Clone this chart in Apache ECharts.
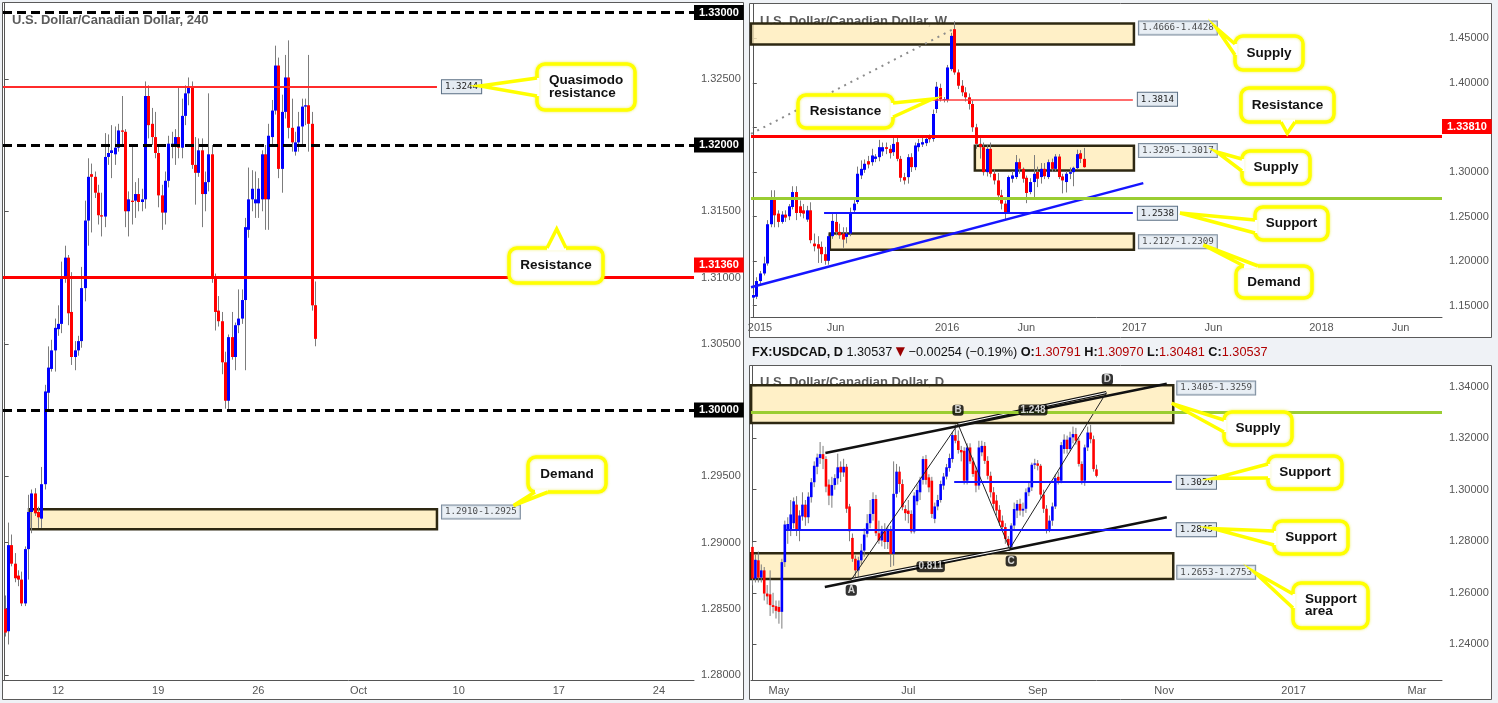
<!DOCTYPE html>
<html><head><meta charset="utf-8">
<script src="https://cdn.jsdelivr.net/npm/echarts@6/dist/echarts.min.js"></script>
<style>html,body{margin:0;padding:0;background:#eff2f6;}#c{width:1498px;height:703px;}</style>
</head><body><div id="c"></div>
<script>
// ---------------- DATA ----------------
// 240-minute candles [open, close, low, high]
const h4Ohlc = [
[1.2850,1.2832,1.2829,1.2860],[1.2833,1.2898,1.2823,1.2915],[1.2898,1.2884,1.2882,1.2906],[1.2884,1.2873,1.2870,1.2892],
[1.2875,1.2872,1.2867,1.2879],[1.2872,1.2854,1.2852,1.2878],[1.2854,1.2895,1.2852,1.2897],[1.2895,1.2923,1.2872,1.2936],
[1.2923,1.2937,1.2907,1.2940],[1.2937,1.2922,1.2920,1.2941],[1.2923,1.2919,1.2911,1.2927],[1.2918,1.2944,1.2911,1.2957],
[1.2944,1.3014,1.2940,1.3019],[1.3013,1.3032,1.2999,1.3048],[1.3031,1.3045,1.3029,1.3053],[1.3045,1.3062,1.3029,1.3069],
[1.3061,1.3065,1.3056,1.3079],[1.3065,1.3100,1.3058,1.3112],[1.3100,1.3115,1.3096,1.3124],[1.3115,1.3073,1.3064,1.3117],
[1.3074,1.3040,1.3034,1.3104],[1.3040,1.3045,1.3030,1.3052],[1.3045,1.3052,1.3041,1.3056],[1.3052,1.3092,1.3047,1.3108],
[1.3092,1.3143,1.3082,1.3158],[1.3143,1.3176,1.3124,1.3190],[1.3178,1.3176,1.3134,1.3186],[1.3176,1.3164,1.3160,1.3180],
[1.3164,1.3147,1.3140,1.3170],[1.3147,1.3146,1.3131,1.3164],[1.3146,1.3191,1.3138,1.3209],[1.3191,1.3194,1.3185,1.3208],
[1.3194,1.3196,1.3175,1.3215],[1.3193,1.3198,1.3185,1.3214],[1.3198,1.3211,1.3195,1.3216],[1.3211,1.3210,1.3200,1.3237],
[1.3210,1.3150,1.3138,1.3212],[1.3150,1.3159,1.3131,1.3165],[1.3158,1.3157,1.3140,1.3200],[1.3158,1.3163,1.3145,1.3172],
[1.3163,1.3157,1.3150,1.3175],[1.3157,1.3159,1.3150,1.3167],[1.3159,1.3237,1.3152,1.3248],[1.3237,1.3215,1.3205,1.3245],
[1.3216,1.3206,1.3200,1.3228],[1.3206,1.3194,1.3190,1.3225],[1.3194,1.3162,1.3153,1.3200],[1.3162,1.3149,1.3136,1.3170],
[1.3149,1.3173,1.3140,1.3180],[1.3173,1.3201,1.3168,1.3207],[1.3199,1.3201,1.3190,1.3210],[1.3199,1.3206,1.3185,1.3212],
[1.3206,1.3198,1.3190,1.3243],[1.3198,1.3222,1.3190,1.3235],[1.3222,1.3239,1.3215,1.3245],[1.3239,1.3244,1.3230,1.3251],
[1.3244,1.3185,1.3182,1.3248],[1.3185,1.3179,1.3155,1.3206],[1.3179,1.3196,1.3176,1.3205],[1.3196,1.3163,1.3138,1.3205],
[1.3163,1.3172,1.3150,1.3180],[1.3172,1.3193,1.3165,1.3239],[1.3193,1.3100,1.3096,1.3200],[1.3101,1.3074,1.3060,1.3103],
[1.3075,1.3067,1.3063,1.3086],[1.3067,1.3036,1.3027,1.3074],[1.3036,1.3007,1.3001,1.3044],[1.3007,1.3055,1.3000,1.3057],
[1.3055,1.3040,1.3038,1.3074],[1.3040,1.3064,1.3030,1.3066],[1.3064,1.3069,1.3058,1.3091],[1.3069,1.3083,1.3065,1.3091],
[1.3083,1.3138,1.3030,1.3145],[1.3136,1.3159,1.3130,1.3183],[1.3159,1.3167,1.3150,1.3181],[1.3156,1.3159,1.3145,1.3180],
[1.3156,1.3167,1.3145,1.3175],[1.3159,1.3193,1.3150,1.3196],[1.3193,1.3159,1.3136,1.3200],[1.3159,1.3207,1.3136,1.3216],
[1.3206,1.3226,1.3200,1.3234],[1.3226,1.3260,1.3223,1.3275],[1.3260,1.3182,1.3175,1.3266],[1.3182,1.3225,1.3164,1.3238],
[1.3225,1.3251,1.3220,1.3268],[1.3251,1.3213,1.3205,1.3279],[1.3213,1.3202,1.3195,1.3235],[1.3195,1.3202,1.3192,1.3210],
[1.3202,1.3214,1.3195,1.3225],[1.3214,1.3229,1.3200,1.3235],[1.3229,1.3230,1.3215,1.3235],[1.3230,1.3216,1.3195,1.3268],
[1.3216,1.3079,1.3075,1.3225],[1.30791,1.30537,1.30481,1.30970]
];
// weekly candles [open, close, low, high]
const wOhlc = [
[1.1591,1.1620,1.1575,1.1640],[1.1601,1.1777,1.1575,1.1820],[1.1777,1.1862,1.1740,1.1890],[1.1862,1.1974,1.1840,1.2050],
[1.1974,1.2414,1.1950,1.2460],[1.2414,1.2719,1.2380,1.2795],[1.2690,1.2514,1.2380,1.2795],[1.2533,1.2440,1.2380,1.2570],
[1.2440,1.2522,1.2420,1.2560],[1.2522,1.2488,1.2440,1.2570],[1.2503,1.2615,1.2460,1.2640],[1.2607,1.2775,1.2580,1.2840],
[1.2775,1.2540,1.2460,1.2840],[1.2615,1.2540,1.2500,1.2680],[1.2570,1.2533,1.2480,1.2640],[1.2466,1.2570,1.2440,1.2620],
[1.2570,1.2235,1.2200,1.2660],[1.2197,1.2167,1.2110,1.2310],[1.2190,1.2141,1.1980,1.2280],[1.2160,1.2078,1.1980,1.2220],
[1.2078,1.2004,1.1960,1.2160],[1.2004,1.2280,1.1960,1.2310],[1.2280,1.2451,1.2250,1.2550],[1.2440,1.2328,1.2290,1.2530],
[1.2328,1.2290,1.2250,1.2420],[1.2309,1.2242,1.2150,1.2380],[1.2272,1.2309,1.2200,1.2380],[1.2309,1.2551,1.2280,1.2600],
[1.2570,1.2645,1.2540,1.2700],[1.2663,1.2980,1.2640,1.3060],[1.2961,1.3035,1.2920,1.3130],[1.3024,1.3092,1.2990,1.3140],
[1.3121,1.3084,1.3040,1.3180],[1.3110,1.3185,1.3070,1.3260],[1.3147,1.3173,1.3110,1.3200],[1.3166,1.3278,1.3120,1.3360],
[1.3230,1.3278,1.3180,1.3330],[1.3278,1.3259,1.3200,1.3330],[1.3259,1.3211,1.3150,1.3300],[1.3222,1.3315,1.3180,1.3380],
[1.3334,1.3147,1.3120,1.3410],[1.3147,1.2935,1.2890,1.3180],[1.2942,1.2905,1.2860,1.2990],[1.2942,1.3166,1.2870,1.3200],
[1.3166,1.3054,1.3000,1.3210],[1.3054,1.3297,1.3020,1.3330],[1.3278,1.3323,1.3230,1.3370],[1.3308,1.3334,1.3280,1.3390],
[1.3323,1.3371,1.3290,1.3400],[1.3390,1.3367,1.3330,1.3420],[1.3371,1.3650,1.3340,1.3700],[1.3706,1.3956,1.3660,1.4010],
[1.3941,1.3818,1.3790,1.3990],[1.3807,1.3818,1.3780,1.3840],[1.3807,1.4172,1.3780,1.4200],[1.4153,1.4526,1.4130,1.4560],
[1.4601,1.4116,1.4090,1.4690],[1.4116,1.3967,1.3930,1.4150],[1.3967,1.3893,1.3850,1.4030],[1.3893,1.3837,1.3790,1.3950],
[1.3837,1.3762,1.3700,1.3880],[1.3762,1.3501,1.3450,1.3800],[1.3501,1.3315,1.3260,1.3540],[1.3315,1.3278,1.3150,1.3380],
[1.3278,1.2998,1.2960,1.3330],[1.2998,1.3259,1.2950,1.3300],[1.3259,1.2980,1.2940,1.3330],[1.2980,1.2905,1.2860,1.3030],
[1.2905,1.2738,1.2680,1.2990],[1.2738,1.2645,1.2580,1.2800],[1.2645,1.2551,1.2460,1.2680],[1.2551,1.2943,1.2540,1.2960],
[1.2924,1.2961,1.2880,1.3010],[1.2943,1.3110,1.2920,1.3190],[1.3110,1.3035,1.2980,1.3150],[1.3035,1.2924,1.2880,1.3050],
[1.2935,1.2764,1.2650,1.2960],[1.2775,1.2887,1.2750,1.2930],[1.2887,1.2980,1.2700,1.3190],[1.3000,1.2924,1.2830,1.3060],
[1.2943,1.3035,1.2870,1.3100],[1.3035,1.2952,1.2920,1.3100],[1.2943,1.3110,1.2920,1.3140],[1.3110,1.3035,1.3000,1.3150],
[1.3035,1.3173,1.3010,1.3200],[1.3173,1.2943,1.2920,1.3200],[1.2950,1.2905,1.2760,1.2980],[1.2887,1.2980,1.2770,1.3010],
[1.2980,1.2998,1.2920,1.3050],[1.2998,1.3047,1.2840,1.3060],[1.3043,1.3200,1.3030,1.3250],[1.3210,1.3147,1.3100,1.3245],
[1.3147,1.3054,1.3048,1.3270]
];
// daily candles [open, close, low, high]
const dOhlc = [
[1.2778,1.2655,1.2629,1.2795],[1.2655,1.2728,1.2640,1.2750],[1.2726,1.2659,1.2640,1.2760],[1.2659,1.2687,1.2640,1.2710],
[1.2687,1.2597,1.2570,1.2700],[1.2597,1.2586,1.2555,1.2630],[1.2594,1.2552,1.2510,1.2687],[1.2552,1.2545,1.2520,1.2600],
[1.2548,1.2530,1.2500,1.2570],[1.2545,1.2526,1.2480,1.2570],[1.2526,1.2719,1.2461,1.2732],[1.2719,1.2865,1.2700,1.2880],
[1.2844,1.2867,1.2790,1.2893],[1.2844,1.2904,1.2820,1.2960],[1.2870,1.2955,1.2850,1.2970],[1.2942,1.2842,1.2820,1.2975],
[1.2842,1.2900,1.2800,1.2920],[1.2896,1.2942,1.2880,1.2990],[1.2942,1.2893,1.2860,1.2960],[1.2893,1.2973,1.2870,1.2990],
[1.2971,1.3029,1.2950,1.3045],[1.3029,1.3093,1.3010,1.3110],[1.3089,1.3125,1.3060,1.3140],[1.3123,1.3138,1.3100,1.3185],
[1.3138,1.3119,1.3080,1.3170],[1.3119,1.3012,1.2990,1.3130],[1.3020,1.2977,1.2940,1.3040],[1.2977,1.3018,1.2930,1.3050],
[1.3018,1.3045,1.3000,1.3060],[1.3044,1.3087,1.3020,1.3140],[1.3089,1.3067,1.3030,1.3110],[1.3067,1.3089,1.3050,1.3120],
[1.3089,1.2926,1.2910,1.3100],[1.2935,1.2839,1.2800,1.2945],[1.2813,1.2732,1.2720,1.2830],[1.2732,1.2687,1.2655,1.2745],
[1.2687,1.2726,1.2655,1.2740],[1.2726,1.2764,1.2710,1.2790],[1.2764,1.2826,1.2740,1.2850],[1.2829,1.2870,1.2815,1.2905],
[1.2870,1.2906,1.2850,1.2960],[1.2906,1.2964,1.2880,1.2990],[1.2964,1.2831,1.2820,1.2980],[1.2831,1.2803,1.2790,1.2880],
[1.2803,1.2839,1.2780,1.2860],[1.2839,1.2797,1.2770,1.2870],[1.2797,1.2842,1.2770,1.2860],[1.2842,1.2751,1.2700,1.2860],
[1.2751,1.2984,1.2705,1.3110],[1.2984,1.3070,1.2970,1.3100],[1.3070,1.3022,1.2990,1.3090],[1.3022,1.2932,1.2920,1.3040],
[1.2925,1.2909,1.2880,1.2940],[1.2919,1.2906,1.2870,1.2960],[1.2906,1.2838,1.2830,1.2920],[1.2838,1.2977,1.2830,1.2990],
[1.2955,1.2999,1.2940,1.3020],[1.2990,1.3038,1.2960,1.3050],[1.3038,1.3119,1.3020,1.3130],[1.3119,1.3038,1.3020,1.3135],
[1.3048,1.3009,1.2990,1.3060],[1.3035,1.2906,1.2890,1.3050],[1.2887,1.2935,1.2870,1.2950],[1.2935,1.2960,1.2920,1.2980],
[1.2960,1.3022,1.2950,1.3035],[1.3016,1.3051,1.3000,1.3065],[1.3051,1.3087,1.3040,1.3100],[1.3084,1.3123,1.3070,1.3140],
[1.3119,1.3212,1.3105,1.3225],[1.3212,1.3190,1.3180,1.3254],[1.3190,1.3154,1.3140,1.3230],[1.3154,1.3145,1.3110,1.3170],
[1.3151,1.3035,1.3020,1.3165],[1.3035,1.3164,1.3020,1.3180],[1.3164,1.3110,1.3100,1.3180],[1.3110,1.3061,1.3050,1.3125],
[1.3074,1.3016,1.2990,1.3090],[1.3016,1.3164,1.3000,1.3190],[1.3145,1.3170,1.3130,1.3190],[1.3170,1.3112,1.3100,1.3185],
[1.3112,1.3054,1.3040,1.3130],[1.3054,1.2990,1.2970,1.3070],[1.2990,1.2945,1.2920,1.3010],[1.2958,1.2919,1.2900,1.2980],
[1.2922,1.2874,1.2860,1.2940],[1.2880,1.2855,1.2840,1.2900],[1.2855,1.2809,1.2790,1.2870],[1.2809,1.2784,1.2770,1.2820],
[1.2777,1.2861,1.2766,1.2870],[1.2861,1.2925,1.2840,1.2950],[1.2919,1.2945,1.2890,1.2960],[1.2945,1.2919,1.2900,1.2965],
[1.2919,1.2926,1.2895,1.2950],[1.2926,1.2990,1.2910,1.3005],[1.2990,1.3009,1.2975,1.3030],[1.3009,1.3097,1.2995,1.3105],
[1.3097,1.3102,1.3080,1.3120],[1.3102,1.3093,1.3075,1.3115],[1.3093,1.2981,1.2965,1.3100],[1.2981,1.2926,1.2910,1.3000],
[1.2926,1.2842,1.2830,1.2940],[1.2842,1.2880,1.2835,1.2900],[1.2880,1.2935,1.2860,1.2950],[1.2935,1.3045,1.2925,1.3060],
[1.3050,1.3035,1.3020,1.3070],[1.3035,1.3173,1.3025,1.3185],[1.3158,1.3194,1.3140,1.3215],[1.3194,1.3158,1.3140,1.3210],
[1.3158,1.3203,1.3150,1.3225],[1.3203,1.3216,1.3180,1.3245],[1.3216,1.3190,1.3175,1.3240],[1.3190,1.3100,1.3090,1.3200],
[1.3100,1.3035,1.3020,1.3110],[1.3035,1.3164,1.3015,1.3175],[1.3164,1.3222,1.3150,1.3245],[1.3222,1.3196,1.3180,1.3252],
[1.3196,1.3080,1.3070,1.3210],[1.30791,1.30537,1.30481,1.30970]
];
// x-axis ticks (category slot index -> label)
const h4TickIndex = [16,46,76,106,136,166,196];
const h4TickLabels = ['12','19','26','Oct','10','17','24'];
const wTickIndex = [2,23,54,76,106,128,158,180];
const wTickLabels = ['2015','Jun','2016','Jun','2017','Jun','2018','Jun'];
const dTickIndex = [9,53,97,140,184,226];
const dTickLabels = ['May','Jul','Sep','Nov','2017','Mar'];
// y-axis tick values
const h4YTicks = [1.28,1.285,1.29,1.295,1.30,1.305,1.31,1.315,1.32,1.325,1.33];
const wYTicks = [1.15,1.20,1.25,1.30,1.35,1.40,1.45];
const dYTicks = [1.24,1.26,1.28,1.30,1.32,1.34];
// price levels
const lastPrice = 1.30537;
const h4RoundLevels = [1.33, 1.32, 1.30];
const h4Quasimodo = 1.3244, h4Resistance = 1.3136, h4Demand = [1.2910, 1.2925];
const wSupplyTop = [1.4428, 1.4666], wSupplyMid = [1.3017, 1.3295], wDemand = [1.2127, 1.2309];
const wResistance = 1.3381, wResistance2 = 1.3814, wSupport = 1.2538, wGreen = 1.2670;
const dSupply = [1.3259, 1.3405], dSupportArea = [1.2653, 1.2753], dGreen = 1.3316, dSupport1 = 1.3029, dSupport2 = 1.2845;
const dPattern = { A: 1.26511, B: 1.32545, C: 1.27710, D: 1.33768 };

// ---------------- CHART ----------------
const SANS = '"Liberation Sans", Arial, sans-serif';
const N4 = 207, NW = 192, ND = 235;

function catAxis(grid, n, idx, labels) {
  const map = {}; idx.forEach((k, j) => map[k] = labels[j]);
  const show = (i) => map[i] !== undefined;
  return { type: 'category', gridIndex: grid, data: Array.from({length: n}, (_, i) => i), boundaryGap: true,
    axisLine: { lineStyle: { color: '#555', width: 1 } },
    axisTick: { alignWithLabel: true, interval: show, length: 4, lineStyle: { color: '#555' } },
    axisLabel: { interval: show, formatter: (v, i) => map[i] || '', color: '#555', fontSize: 11, fontFamily: SANS, margin: 5 },
    splitLine: { show: false } };
}
function hidAxis(grid, n) { return { type: 'value', gridIndex: grid, min: -0.5, max: n - 0.5, show: false }; }
function valAxis(grid, min, max, ticks) {
  return { type: 'value', gridIndex: grid, position: 'right', min, max,
    axisLine: { show: true, lineStyle: { color: '#555', width: 1 } },
    axisTick: { show: true, customValues: ticks, length: 4, lineStyle: { color: '#555' } },
    axisLabel: { customValues: ticks, formatter: v => v.toFixed(5), color: '#555', fontSize: 11, fontFamily: SANS, margin: 7 },
    splitLine: { show: false } };
}
function candleSeries(rows, xi, yi, bodyW, crisp) {
  return { type: 'custom', xAxisIndex: xi, yAxisIndex: yi, z: 3,
    data: rows.map((r, i) => [i, r[0], r[1], r[2], r[3]]),
    encode: { x: 0, y: [1, 2, 3, 4] },
    renderItem: (params, api) => {
      const i = api.value(0), o = api.value(1), c = api.value(2), l = api.value(3), h = api.value(4);
      const pH = api.coord([i, h]), pL = api.coord([i, l]), pO = api.coord([i, o]), pC = api.coord([i, c]);
      const cx = crisp ? Math.round(pH[0]) + 0.5 : pH[0];
      const top = Math.min(pO[1], pC[1]), bot = Math.max(pO[1], pC[1]);
      return { type: 'group', children: [
        { type: 'line', shape: { x1: cx, y1: pH[1], x2: cx, y2: pL[1] }, style: { stroke: '#7c7c7c', lineWidth: 1 } },
        { type: 'rect', shape: { x: cx - bodyW / 2, y: top, width: bodyW, height: Math.max(bot - top, 1) },
          style: { fill: c >= o ? '#0000ff' : '#ff0000' } }
      ]};
    } };
}
const boxLabel = (text, bg, offY) => ({ show: true, position: 'end', distance: 0, formatter: text, backgroundColor: bg,
  color: '#fff', fontWeight: 'bold', fontSize: 11, fontFamily: SANS, padding: [2, 5, 2, 5], lineHeight: 11, offset: [0, offY || 0] });
const TAG = { show: true, backgroundColor: '#e4ebf2', borderColor: '#5b6f84', borderWidth: 1, padding: [2, 3, 1, 3],
  color: '#1c1c1c', fontFamily: '"DejaVu Sans Mono", monospace', fontSize: 9.2, lineHeight: 10 };
const tagLine = (x1, x2, p, text, color, width) => [
  { coord: [x1, p], lineStyle: { color, width, type: 'solid' }, label: Object.assign({}, TAG, { position: 'end', distance: 5, formatter: text }) },
  { coord: [x2, p] }];
const ZONE = { color: 'rgba(255,236,185,0.8)', borderColor: '#2e2812', borderWidth: 2.5 };
const zone = (x1, x2, pr) => [{ coord: [x1, pr[1]], itemStyle: ZONE }, { coord: [x2, pr[0]] }];
const hiddenLine = { opacity: 0 };

function overlay(xi, yi, markLines, markAreas, z) {
  return { type: 'line', xAxisIndex: xi, yAxisIndex: yi, data: [], z: z, silent: true,
    markLine: markLines ? { symbol: ['none', 'none'], silent: true, animation: false, data: markLines } : undefined,
    markArea: markAreas ? { silent: true, animation: false, data: markAreas } : undefined };
}
function seg(xi, yi, pts, color, width, type, z) {
  return { type: 'line', xAxisIndex: xi, yAxisIndex: yi, data: pts, symbol: 'none', silent: true, z: z || 4,
    lineStyle: { color, width, type: type || 'solid' } };
}
function tags(xi, yi, items, extra, z) {
  return { type: 'scatter', xAxisIndex: xi, yAxisIndex: yi, symbolSize: 0, silent: true, z: z || 6,
    data: items.map(it => ({ value: [it[0], it[1]], label: { formatter: it[2] } })),
    label: Object.assign({}, extra) };
}

const series = [
  // ---- 4H ----
  overlay(1, 0, null, [zone(7.3, 129.5, h4Demand)], 1),
  candleSeries(h4Ohlc, 0, 0, 3, true),
  overlay(1, 0, [
    ...h4RoundLevels.map(v => ({ yAxis: v, lineStyle: { color: '#000', width: 3, type: [9, 5] }, label: boxLabel(v.toFixed(5), '#000') })),
    { yAxis: h4Resistance, lineStyle: { color: '#ff0000', width: 3, type: 'solid' }, label: boxLabel('1.31360', '#ff0000', -12.5) },
    { yAxis: lastPrice, lineStyle: hiddenLine, label: boxLabel('1.30537', '#ff0000') },
    tagLine(-0.5, 129.5, h4Quasimodo, '1.3244', '#ff2b2b', 2)
  ], null, 4),
  tags(1, 0, [[129.5, 1.2923, '1.2910-1.2925']], Object.assign({}, TAG, { position: 'right', distance: 5 })),
  // ---- Weekly ----
  overlay(3, 1, null, [zone(-0.5, 105.9, wSupplyTop), zone(61.7, 105.9, wSupplyMid), zone(21.4, 105.9, wDemand)], 1),
  seg(3, 1, [[-0.5, 1.3427], [56.5, 1.4618]], '#8c8c8c', 2, [2, 5], 2),
  candleSeries(wOhlc, 2, 1, 3, true),
  overlay(3, 1, [
    { yAxis: wResistance, lineStyle: { color: '#ff0000', width: 3, type: 'solid' }, label: boxLabel('1.33810', '#ff0000', -9.7) },
    { yAxis: wGreen, lineStyle: { color: '#9acd32', width: 3, type: 'solid' }, label: { show: false } },
    { yAxis: lastPrice, lineStyle: hiddenLine, label: boxLabel('1.30537', '#ff0000') },
    tagLine(49.8, 105.6, wResistance2, '1.3814', '#ff3b3b', 1.5),
    tagLine(19.8, 105.6, wSupport, '1.2538', '#1515ff', 2)
  ], null, 4),
  seg(3, 1, [[-0.5, 1.17068], [108.5, 1.28749]], '#1515ff', 2.5, 'solid', 4),
  tags(3, 1, [[105.9, 1.4615, '1.4666-1.4428'], [105.9, 1.3240, '1.3295-1.3017'], [105.9, 1.2218, '1.2127-1.2309']],
    Object.assign({}, TAG, { position: 'right', distance: 5 })),
  // ---- Daily ----
  overlay(5, 2, null, [zone(-0.5, 143.1, dSupply), zone(-0.5, 143.1, dSupportArea)], 1),
  candleSeries(dOhlc, 4, 2, 2.6, false),
  overlay(5, 2, [
    { yAxis: dGreen, lineStyle: { color: '#9acd32', width: 3, type: 'solid' }, label: { show: false } },
    { yAxis: lastPrice, lineStyle: hiddenLine, label: boxLabel('1.30537', '#ff0000') },
    tagLine(68.6, 142.6, dSupport1, '1.3029', '#1515ff', 2),
    tagLine(11.4, 142.6, dSupport2, '1.2845', '#1515ff', 2)
  ], null, 4),
  seg(5, 2, [[24.8, 1.31424], [140.9, 1.34116]], '#111', 2.5),
  seg(5, 2, [[24.6, 1.26224], [140.9, 1.28932]], '#111', 2.5),
  seg(5, 2, [[33.6, dPattern.A], [87.5, dPattern.C]], '#111', 3.5),
  seg(5, 2, [[33.6, dPattern.A], [87.5, dPattern.C]], '#fff', 1),
  seg(5, 2, [[69.9, dPattern.B], [120.35, dPattern.D]], '#111', 3.5),
  seg(5, 2, [[69.9, dPattern.B], [120.35, dPattern.D]], '#fff', 1),
  seg(5, 2, [[33.6, dPattern.A], [69.9, dPattern.B], [87.5, dPattern.C], [120.35, dPattern.D]], '#222', 1),
  tags(5, 2, [[143.1, 1.3395, '1.3405-1.3259'], [143.1, 1.26793, '1.2653-1.2753']],
    Object.assign({}, TAG, { position: 'right', distance: 4 })),
  tags(5, 2, [[33.6, 1.26097, 'A'], [69.9, 1.33087, 'B'], [88.0, 1.27230, 'C'], [120.7, 1.34286, 'D'],
              [95.4, 1.33091, '1.248'], [60.6, 1.27013, '0.811']],
    { show: true, position: 'inside', backgroundColor: '#000', borderRadius: 3, color: '#fff', fontWeight: 'bold',
      fontSize: 10, fontFamily: SANS, padding: [1, 2, 0, 2], lineHeight: 10 }, 7)
];

// ---------------- ANNOTATIONS (callouts, titles, panels) ----------------
const TITLE_FONT = 'bold 13px ' + SANS;
const bubbles = [
  { x: 537, y: 64, w: 98, h: 46, side: 'left', tip: [480, 86], b: [[537, 78], [537, 96]], text: 'Quasimodo\nresistance', align: 'left' },
  { x: 509, y: 248, w: 94, h: 35, side: 'top', tip: [556.7, 229], b: [[547, 248], [566, 248]], text: 'Resistance' },
  { x: 528, y: 457, w: 78, h: 35, side: 'bottom', tip: [513.5, 505.5], b: [[535, 492], [548, 492]], text: 'Demand' },
  { x: 1235, y: 36, w: 68, h: 34, side: 'left', tip: [1216.7, 28.3], b: [[1235, 44], [1235, 55]], text: 'Supply' },
  { x: 1241, y: 88, w: 93, h: 34, side: 'bottom', tip: [1287.3, 133.3], b: [[1281, 122], [1295, 122]], text: 'Resistance' },
  { x: 1242, y: 151, w: 68, h: 33, side: 'left', tip: [1216.7, 152], b: [[1242, 159], [1242, 171]], text: 'Supply' },
  { x: 1255, y: 207, w: 73, h: 33, side: 'left', tip: [1180, 213], b: [[1255, 220], [1255, 233]], text: 'Support' },
  { x: 1236, y: 266, w: 76, h: 32, side: 'top', tip: [1203.3, 245], b: [[1244, 266], [1258, 266]], text: 'Demand' },
  { x: 798, y: 95, w: 95, h: 33, side: 'right', tip: [932.3, 99], b: [[893, 103], [893, 117]], text: 'Resistance' },
  { x: 1224, y: 412, w: 68, h: 33, side: 'left', tip: [1171.7, 403.3], b: [[1224, 420], [1224, 432]], text: 'Supply' },
  { x: 1268, y: 456, w: 74, h: 33, side: 'left', tip: [1214, 478.3], b: [[1268, 464], [1268, 478]], text: 'Support' },
  { x: 1274, y: 521, w: 74, h: 33, side: 'left', tip: [1213.3, 528.7], b: [[1274, 531], [1274, 545]], text: 'Support' },
  { x: 1293, y: 583, w: 75, h: 45, side: 'left', tip: [1254.7, 572.3], b: [[1293, 594], [1293, 608]], text: 'Support\narea', align: 'left' }
];
const NORMAL = { left: [1, 0], right: [-1, 0], top: [0, 1], bottom: [0, -1] };
const graphic = [];
// panels
[[2.5, 2.5, 741, 697], [749.5, 3.5, 742, 334], [749.5, 365.5, 742, 334]].forEach(p => graphic.push({
  type: 'rect', z: -10, silent: true, shape: { x: p[0], y: p[1], width: p[2], height: p[3] },
  style: { fill: '#fff', stroke: '#5a5a5a', lineWidth: 1 } }));
// titles
[['U.S. Dollar/Canadian Dollar, 240', 12, 20], ['U.S. Dollar/Canadian Dollar, W', 760, 21], ['U.S. Dollar/Canadian Dollar, D', 760, 382]]
  .forEach(t => graphic.push({ type: 'text', z: -5, silent: true,
    style: { text: t[0], x: t[1], y: t[2], font: TITLE_FONT, fill: '#5c5c5c', verticalAlign: 'middle' } }));
// daily header
const HF = 12.7;
graphic.push({ type: 'text', z: 5, silent: true, style: {
  x: 752, y: 352, verticalAlign: 'middle', font: HF + 'px ' + SANS, fill: '#111',
  text: '{b|FX:USDCAD, D} {n|1.30537} {t|▼} {n|−0.00254 (−0.19%)} {b|O:}{r|1.30791} {b|H:}{r|1.30970} {b|L:}{r|1.30481} {b|C:}{r|1.30537}',
  rich: {
    b: { font: 'bold ' + HF + 'px ' + SANS, fill: '#111' },
    n: { font: HF + 'px ' + SANS, fill: '#111' },
    r: { font: HF + 'px ' + SANS, fill: '#b00000' },
    t: { font: '12px "DejaVu Sans"', fill: '#9a0000' }
  } } });
// callouts
bubbles.forEach(bb => {
  const n = NORMAL[bb.side], k = 2.5;
  const in1 = [bb.b[0][0] + n[0] * k, bb.b[0][1] + n[1] * k], in2 = [bb.b[1][0] + n[0] * k, bb.b[1][1] + n[1] * k];
  graphic.push({ type: 'rect', z: 100, silent: true, shape: { x: bb.x, y: bb.y, width: bb.w, height: bb.h, r: 8 },
    style: { fill: '#fff', stroke: '#ffff00', lineWidth: 3.5, shadowBlur: 3, shadowColor: 'rgba(230,230,0,0.6)' } });
  graphic.push({ type: 'polygon', z: 101, silent: true, shape: { points: [in1, bb.b[0], bb.tip, bb.b[1], in2] }, style: { fill: '#fff' } });
  graphic.push({ type: 'polyline', z: 102, silent: true, shape: { points: [bb.b[0], bb.tip, bb.b[1]] },
    style: { stroke: '#ffff00', lineWidth: 3.5, fill: null } });
  const left = bb.align === 'left';
  graphic.push({ type: 'text', z: 103, silent: true, style: {
    text: bb.text, x: left ? bb.x + 12 : bb.x + bb.w / 2, y: bb.y + bb.h / 2,
    align: left ? 'left' : 'center', verticalAlign: 'middle', font: 'bold 13.5px ' + SANS, fill: '#111', lineHeight: 12.5 } });
});

const chart = echarts.init(document.getElementById('c'), null, { renderer: 'canvas' });
chart.setOption({
  animation: false,
  backgroundColor: '#eff2f6',
  grid: [
    { left: 3, top: 3, width: 691, height: 677 },
    { left: 751, top: 4, width: 691, height: 313 },
    { left: 751, top: 366, width: 691, height: 314 }
  ],
  xAxis: [catAxis(0, N4, h4TickIndex, h4TickLabels), hidAxis(0, N4),
          catAxis(1, NW, wTickIndex, wTickLabels), hidAxis(1, NW),
          catAxis(2, ND, dTickIndex, dTickLabels), hidAxis(2, ND)],
  yAxis: [valAxis(0, 1.27962, 1.33072, h4YTicks), valAxis(1, 1.13738, 1.48834, wYTicks), valAxis(2, 1.22615, 1.34801, dYTicks)],
  series: series,
  graphic: { elements: graphic }
});
</script></body></html>
